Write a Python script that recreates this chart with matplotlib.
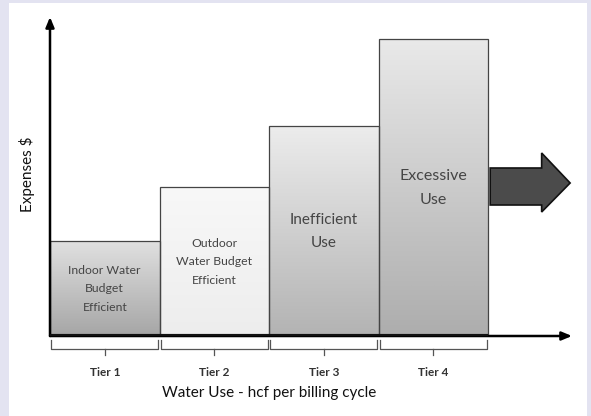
import numpy as np
import matplotlib
matplotlib.use("Agg")
import matplotlib.pyplot as plt
from matplotlib.patches import Rectangle, Polygon

# data
tiers = ["Tier 1", "Tier 2", "Tier 3", "Tier 4"]
expenses = [95, 149, 210, 297]
bar_texts = ["Indoor Water\nBudget\nEfficient", "Outdoor\nWater Budget\nEfficient",
             "Inefficient\nUse", "Excessive\nUse"]
top_colors = ["#e0e0e0", "#f8f8f8", "#ececec", "#e9e9e9"]
bottom_colors = ["#a6a6a6", "#ededed", "#b3b3b3", "#adadad"]

plt.rcParams["font.family"] = ["Lato", "DejaVu Sans"]

W, H = 591, 416
fig = plt.figure(figsize=(W / 100, H / 100), dpi=100)
fig.patch.set_facecolor("#e3e3f1")
fig.patches.append(Rectangle((9 / W, 0), 578 / W, 413 / H, transform=fig.transFigure,
                             facecolor="white", edgecolor="none", zorder=-1))

ax = fig.add_axes([50 / W, 80 / H, 522 / W, 319 / H])
ax.set_zorder(1)
ax.set_facecolor("none")
xmax = 522 / 109.5
ymax = 319

x = np.arange(len(tiers))
bars = ax.bar(x, expenses, width=1.0, align="edge", facecolor="none",
              edgecolor="#444444", linewidth=0.9, zorder=3)

# gradient fill for each bar
for b, c_top, c_bot in zip(bars, top_colors, bottom_colors):
    t = np.array(matplotlib.colors.to_rgb(c_top))
    bt = np.array(matplotlib.colors.to_rgb(c_bot))
    f = np.linspace(0, 1, 100)[:, None]
    grad = (t * (1 - f) + bt * f)[:, None, :]
    x0, h = b.get_x(), b.get_height()
    im = ax.imshow(grad, extent=[x0, x0 + b.get_width(), 0, h], aspect="auto",
                   origin="upper", zorder=2, interpolation="bilinear")
    clip = Rectangle((x0, 0), b.get_width(), h, transform=ax.transData)
    im.set_clip_path(clip)

# text inside bars
sizes = [8.8, 8.8, 11, 11.5]
spacing = [1.85, 1.85, 1.8, 1.9]
for i, (txt, fs, ls) in enumerate(zip(bar_texts, sizes, spacing)):
    ax.text(i + 0.5, expenses[i] * 0.497, txt,
            ha="center", va="center", fontsize=fs, color="#454545",
            linespacing=ls, zorder=4)

ax.set_xlim(0, xmax)
ax.set_ylim(0, ymax)
ax.set_xticks([])
ax.set_yticks([])
for s in ax.spines.values():
    s.set_visible(False)

# axes arrows
ax.annotate("", xy=(0, 1.0), xytext=(0, 0), xycoords="axes fraction",
            arrowprops=dict(arrowstyle="-|>,head_length=0.6,head_width=0.25",
                            color="black", lw=1.8, shrinkA=0, shrinkB=0), zorder=5)
ax.annotate("", xy=(1.0, 0), xytext=(0, 0), xycoords="axes fraction",
            arrowprops=dict(arrowstyle="-|>,head_length=0.6,head_width=0.25",
                            color="black", lw=1.8, shrinkA=0, shrinkB=0), zorder=5)
ax.plot([0, len(tiers)], [0, 0], color="#111111", lw=3, zorder=5, solid_capstyle="butt")

# braces under tiers
for i in range(len(tiers)):
    bx = [i + 0.01, i + 0.01, i + 0.99, i + 0.99]
    by = [-4, -13, -13, -4]
    ax.plot(bx, by, color="#555555", lw=0.9, clip_on=False)
    ax.plot([i + 0.5, i + 0.5], [-13, -19], color="#555555", lw=0.9, clip_on=False)
    ax.text(i + 0.5, -37, tiers[i], ha="center", va="center", fontsize=8.5,
            fontweight="bold", color="#333333", clip_on=False)

# big arrow to the right
sx0, sx1, tip = 4.02, 4.49, 4.75
ys0, ys1, yh0, yh1, ytip = 131, 168, 124, 183, 153
ax.add_patch(Polygon([[sx0, ys0], [sx1, ys0], [sx1, yh0], [tip, ytip],
                      [sx1, yh1], [sx1, ys1], [sx0, ys1]],
                     closed=True, facecolor="#4b4b4b", edgecolor="#111111",
                     lw=1.2, zorder=4, clip_on=False))

ax.text(len(tiers) / 2, -57, "Water Use - hcf per billing cycle", ha="center",
        va="center", fontsize=11, color="#111111", clip_on=False)
ax.text(-0.044, 0.507, "Expenses $", transform=ax.transAxes, rotation=90,
        ha="center", va="center", fontsize=11, color="#111111")

fig.savefig("out.png", dpi=100, facecolor=fig.get_facecolor())
